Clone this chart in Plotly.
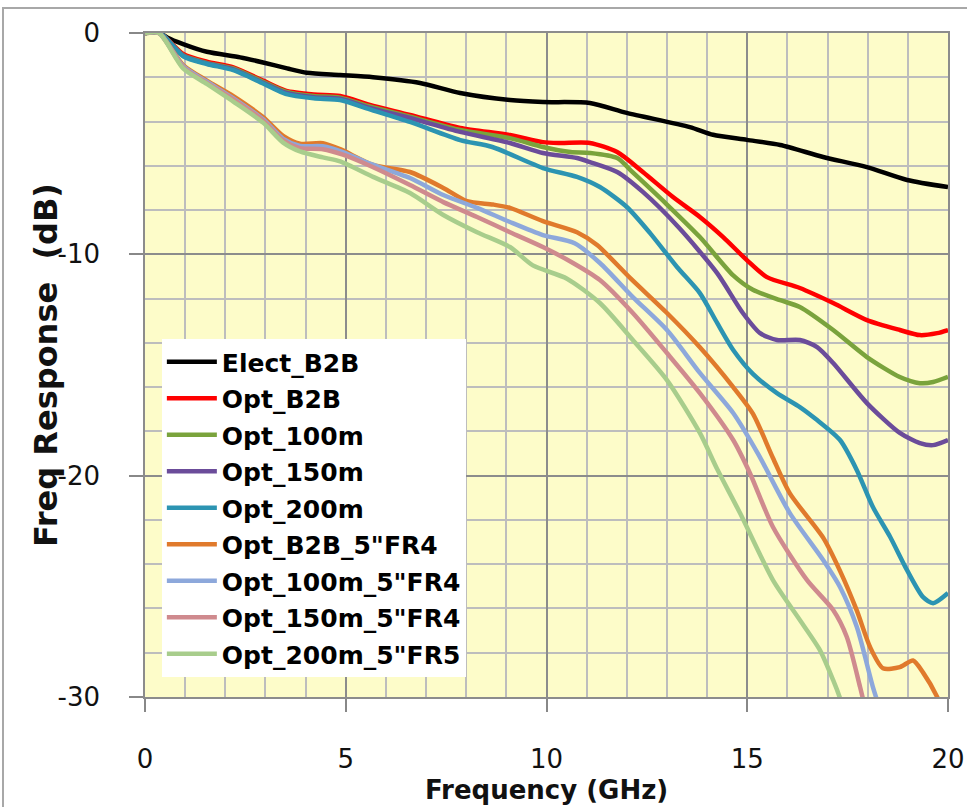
import plotly.graph_objects as go

# ---------------- data (GHz, dB) ----------------
elect_b2b_f = [0, 0.37, 0.55, 0.95, 1.54, 2.37, 2.94, 3.54, 4.03, 4.86, 5.68, 6.85, 7.85, 9.09, 9.91, 11.08, 12.0, 13.57, 14.15, 14.99, 15.82, 16.89, 17.98, 18.98, 20]
elect_b2b_db = [0, 0, -0.2, -0.5, -0.85, -1.1, -1.33, -1.6, -1.8, -1.9, -2.0, -2.26, -2.71, -3.03, -3.12, -3.16, -3.61, -4.25, -4.6, -4.83, -5.06, -5.6, -6.06, -6.64, -6.96]

opt_b2b_f = [0, 0.37, 0.95, 1.54, 2.2, 2.94, 3.5, 4.2, 4.86, 5.6, 6.6, 7.85, 9.09, 9.91, 10.34, 11.08, 11.76, 12.4, 13.15, 13.82, 14.4, 14.99, 15.49, 16.31, 17.14, 17.98, 18.8, 19.3, 19.73, 20]
opt_b2b_db = [0, 0, -0.95, -1.3, -1.55, -2.15, -2.6, -2.78, -2.85, -3.25, -3.7, -4.29, -4.61, -4.93, -4.97, -4.97, -5.38, -6.28, -7.41, -8.31, -9.22, -10.26, -11.03, -11.52, -12.2, -12.97, -13.42, -13.65, -13.56, -13.42]

opt_100m_f = [0, 0.37, 0.95, 1.54, 2.2, 2.94, 3.5, 4.2, 4.86, 5.6, 6.6, 7.85, 9.09, 9.91, 10.6, 11.08, 11.76, 12.15, 13.0, 13.82, 14.65, 15.14, 15.82, 16.31, 17.14, 17.98, 18.8, 19.3, 19.63, 20]
opt_100m_db = [0, 0, -1.0, -1.35, -1.6, -2.2, -2.65, -2.85, -2.92, -3.32, -3.78, -4.38, -4.75, -5.15, -5.38, -5.42, -5.65, -6.3, -7.75, -9.22, -10.95, -11.6, -12.07, -12.38, -13.42, -14.64, -15.54, -15.82, -15.77, -15.54]

opt_150m_f = [0, 0.37, 0.95, 1.54, 2.2, 2.94, 3.5, 4.2, 4.86, 5.6, 6.6, 7.85, 9.09, 9.91, 10.76, 11.08, 11.76, 12.4, 13.3, 14.25, 14.89, 15.32, 15.74, 16.31, 16.74, 17.14, 17.98, 18.8, 19.3, 19.63, 20]
opt_150m_db = [0, 0, -1.02, -1.38, -1.64, -2.25, -2.7, -2.9, -2.97, -3.38, -3.84, -4.47, -4.97, -5.42, -5.65, -5.83, -6.28, -7.18, -8.8, -10.85, -12.65, -13.56, -13.87, -13.87, -14.19, -14.91, -16.72, -18.07, -18.53, -18.62, -18.39]

opt_200m_f = [0, 0.37, 0.95, 1.54, 2.2, 2.94, 3.5, 4.2, 4.86, 5.6, 6.6, 7.85, 8.65, 9.91, 10.76, 11.33, 12.0, 12.58, 13.25, 13.82, 14.25, 14.65, 15.14, 15.74, 16.31, 16.74, 17.31, 17.73, 18.13, 18.56, 18.98, 19.38, 19.63, 20]
opt_200m_db = [0, 0, -1.05, -1.4, -1.68, -2.28, -2.75, -2.95, -3.03, -3.45, -4.02, -4.84, -5.15, -6.1, -6.5, -6.96, -7.86, -9.04, -10.57, -11.75, -13.1, -14.32, -15.4, -16.27, -16.9, -17.49, -18.39, -19.75, -21.42, -22.77, -24.27, -25.49, -25.76, -25.3]

opt_b2b_fr4_f = [0, 0.35, 0.95, 1.54, 2.2, 2.94, 3.44, 3.86, 4.43, 4.86, 5.68, 6.6, 7.43, 8.02, 8.67, 9.09, 9.91, 10.76, 11.26, 12.1, 13.0, 13.82, 14.65, 15.14, 15.64, 16.06, 16.89, 17.31, 17.73, 18.06, 18.38, 18.8, 19.13, 19.38, 19.73, 19.9]
opt_b2b_fr4_db = [0, 0, -1.45, -2.15, -2.85, -3.8, -4.65, -5.0, -4.98, -5.25, -5.96, -6.28, -7.0, -7.6, -7.75, -7.9, -8.5, -9.0, -9.58, -11.1, -12.65, -14.2, -16.0, -17.2, -19.2, -20.8, -22.8, -24.3, -26.1, -27.75, -28.7, -28.65, -28.35, -28.9, -30.0, -30.8]

opt_100m_fr4_f = [0, 0.35, 0.95, 1.54, 2.2, 2.94, 3.44, 3.86, 4.43, 4.93, 5.6, 6.6, 7.43, 8.27, 9.09, 9.91, 10.7, 11.33, 12.15, 13.0, 13.82, 14.65, 15.28, 16.06, 16.89, 17.31, 17.73, 18.13, 18.35]
opt_100m_fr4_db = [0, 0, -1.5, -2.2, -2.95, -3.9, -4.78, -5.1, -5.12, -5.38, -5.9, -6.55, -7.32, -7.9, -8.54, -9.13, -9.5, -10.39, -11.93, -13.42, -15.36, -17.17, -19.05, -21.69, -23.81, -25.03, -26.84, -29.55, -30.8]

opt_150m_fr4_f = [0, 0.35, 0.95, 1.54, 2.2, 2.94, 3.44, 3.86, 4.43, 4.93, 5.6, 6.6, 7.43, 8.27, 9.09, 9.91, 10.66, 11.33, 12.15, 13.0, 13.82, 14.65, 15.07, 15.64, 16.49, 17.14, 17.48, 17.81, 17.95]
opt_150m_fr4_db = [0, 0, -1.55, -2.25, -3.0, -3.95, -4.85, -5.2, -5.25, -5.5, -6.0, -6.87, -7.64, -8.31, -9.0, -9.67, -10.39, -11.16, -12.65, -14.46, -16.27, -18.39, -19.9, -22.32, -24.72, -26.07, -27.29, -29.55, -30.6]

opt_200m_fr5_f = [0, 0.35, 0.95, 1.54, 2.2, 2.94, 3.44, 3.86, 4.43, 4.86, 5.68, 6.6, 7.43, 8.27, 9.09, 9.66, 10.51, 11.33, 12.15, 13.0, 13.82, 14.25, 14.82, 15.64, 16.31, 16.81, 17.14, 17.31, 17.4]
opt_200m_fr5_db = [0, 0, -1.6, -2.3, -3.1, -4.05, -4.95, -5.35, -5.62, -5.8, -6.5, -7.23, -8.22, -9.0, -9.67, -10.5, -11.1, -12.2, -13.87, -15.68, -18.07, -19.7, -21.69, -24.72, -26.52, -27.88, -29.24, -30.05, -30.6]

series_names = ["Elect_B2B", "Opt_B2B", "Opt_100m", "Opt_150m", "Opt_200m",
                "Opt_B2B_5\"FR4", "Opt_100m_5\"FR4", "Opt_150m_5\"FR4", "Opt_200m_5\"FR5"]
series_f = [elect_b2b_f, opt_b2b_f, opt_100m_f, opt_150m_f, opt_200m_f,
            opt_b2b_fr4_f, opt_100m_fr4_f, opt_150m_fr4_f, opt_200m_fr5_f]
series_db = [elect_b2b_db, opt_b2b_db, opt_100m_db, opt_150m_db, opt_200m_db,
             opt_b2b_fr4_db, opt_100m_fr4_db, opt_150m_fr4_db, opt_200m_fr5_db]
series_colors = ["#000000", "#FF0000", "#7AA33C", "#6B4C9A", "#2C94B2",
                 "#E07A2C", "#8DA8DB", "#CF8A8E", "#A8CD8C"]

x_ticks = [0, 5, 10, 15, 20]
y_ticks = [0, -10, -20, -30]
x_title = "Frequency (GHz)"
y_title = "Freq Response\u00a0 (dB)"

FONT = "DejaVu Sans"

fig = go.Figure()
for i, (name, f, db, col) in enumerate(zip(series_names, series_f, series_db, series_colors)):
    fig.add_trace(go.Scatter(
        x=f, y=db, name=name, mode="lines",
        line=dict(color=col, width=4.5, shape="spline", smoothing=0.7),
        legendgroup="g%d" % i,
    ))

fig.update_layout(
    width=967, height=807,
    margin=dict(l=145, r=19, t=33, b=110, autoexpand=False),
    paper_bgcolor="white",
    plot_bgcolor="#FDFCC9",
    font=dict(family=FONT, color="#111111"),
    showlegend=True,
    legend=dict(
        x=0.021, y=0.539, xanchor="left", yanchor="top",
        bgcolor="white", borderwidth=0,
        font=dict(family=FONT, size=25, color="#000000", weight="bold"),
        tracegroupgap=1, traceorder="grouped",
        itemwidth=50,
    ),
    xaxis=dict(
        range=[0, 20], tickvals=x_ticks, ticktext=[str(v) for v in x_ticks],
        ticks="outside", ticklen=13, tickwidth=1.5, tickcolor="#888888",
        ticklabelstandoff=25,
        tickfont=dict(size=26, family=FONT, color="#111111"),
        showgrid=True, gridcolor="#8C8C8C", gridwidth=1.5,
        minor=dict(dtick=1, showgrid=True, gridcolor="#BDBDBD", gridwidth=1.5, ticks=""),
        showline=True, linecolor="#8C8C8C", linewidth=1.5, mirror=True,
        zeroline=False, automargin=False,
    ),
    yaxis=dict(
        range=[-30, 0], tickvals=y_ticks, ticktext=[str(v) for v in y_ticks],
        ticks="outside", ticklen=14, tickwidth=1.5, tickcolor="#888888",
        ticklabelstandoff=24,
        tickfont=dict(size=26, family=FONT, color="#111111"),
        showgrid=True, gridcolor="#8C8C8C", gridwidth=1.5,
        minor=dict(dtick=2, tick0=0, showgrid=True, gridcolor="#BDBDBD", gridwidth=1.5, ticks=""),
        showline=True, linecolor="#8C8C8C", linewidth=1.5, mirror=True,
        zeroline=False, automargin=False,
    ),
)

# axis titles
fig.add_annotation(text="<b>%s</b>" % x_title, xref="paper", yref="paper",
                   x=0.5, y=(697 - 790) / 664, xanchor="center", yanchor="middle",
                   showarrow=False, font=dict(size=26, family=FONT, color="#111111"))
fig.add_annotation(text="<b>%s</b>" % y_title, xref="paper", yref="paper",
                   x=(46 - 145) / 803, y=0.5, xanchor="center", yanchor="middle",
                   textangle=-90, showarrow=False,
                   font=dict(size=32, family=FONT, color="#111111"))

# outer chart-area border (partially visible in the reference)
fig.add_shape(type="rect", xref="paper", yref="paper",
              x0=(3 - 145) / 803, x1=(990 - 145) / 803,
              y0=(697 - 830) / 664, y1=(697 - 8) / 664,
              line=dict(color="#A8A8A8", width=2), fillcolor="rgba(0,0,0,0)", layer="below")

fig.write_html("out.html", config={"displayModeBar": False},
               post_script="document.body.style.margin='0px';document.body.style.overflow='hidden';")
